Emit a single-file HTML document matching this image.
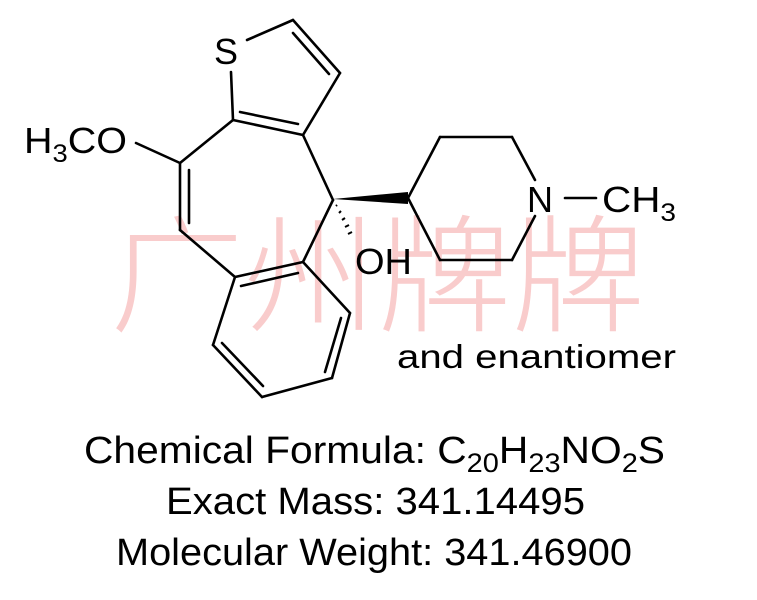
<!DOCTYPE html>
<html><head><style>html,body{margin:0;padding:0;background:#fff}svg{display:block}</style></head>
<body>
<svg width="757" height="600" viewBox="0 0 757 600" xmlns="http://www.w3.org/2000/svg">
<text x="110" y="322" font-family="Noto Sans CJK SC, WenQuanYi Zen Hei, sans-serif" font-size="128" font-weight="300" fill="#f9cccc" textLength="535" lengthAdjust="spacingAndGlyphs">广州牌牌</text>
<g stroke="#000" stroke-width="2.6" fill="none" stroke-linecap="round">
<line x1="247" y1="40" x2="293" y2="20"/>
<line x1="293" y1="20" x2="340" y2="73"/>
<line x1="293" y1="33" x2="329" y2="74"/>
<line x1="340" y1="73" x2="303" y2="135"/>
<line x1="303" y1="135" x2="233" y2="120"/>
<line x1="298" y1="124" x2="240" y2="112"/>
<line x1="231" y1="72" x2="233" y2="120"/>
<line x1="233" y1="120" x2="180" y2="163"/>
<line x1="180" y1="163" x2="136" y2="143"/>
<line x1="180" y1="163" x2="180" y2="230"/>
<line x1="189" y1="170" x2="189" y2="223"/>
<line x1="180" y1="230" x2="235" y2="277"/>
<line x1="303" y1="135" x2="333" y2="200"/>
<line x1="333" y1="200" x2="303" y2="262"/>
<line x1="235" y1="277" x2="303" y2="262"/>
<line x1="241" y1="286" x2="298" y2="273"/>
<line x1="303" y1="262" x2="350" y2="313"/>
<line x1="350" y1="313" x2="332" y2="378"/>
<line x1="341" y1="318" x2="325" y2="372"/>
<line x1="332" y1="378" x2="262" y2="397"/>
<line x1="262" y1="397" x2="213" y2="345"/>
<line x1="263" y1="386" x2="222" y2="343"/>
<line x1="213" y1="345" x2="235" y2="277"/>
<line x1="408" y1="198" x2="440" y2="137"/>
<line x1="440" y1="137" x2="512" y2="137"/>
<line x1="512" y1="137" x2="535" y2="180"/>
<line x1="535" y1="216" x2="512" y2="260"/>
<line x1="512" y1="260" x2="440" y2="260"/>
<line x1="440" y1="260" x2="408" y2="198"/>
<line x1="565" y1="198" x2="596" y2="198"/>
</g>
<polygon points="333,199 408,192 408,204" fill="#000"/>
<g stroke="#000" stroke-width="2">
<line x1="336" y1="206" x2="337" y2="205"/>
<line x1="339" y1="213" x2="341" y2="211"/>
<line x1="342" y1="220" x2="345" y2="218"/>
<line x1="345" y1="227" x2="349" y2="225"/>
<line x1="348" y1="234" x2="352" y2="232"/>
</g>
<g font-family="Liberation Sans, Arial, sans-serif" fill="#000">
<text x="214" y="64" font-size="36">S</text>
<text x="24" y="153" font-size="36" textLength="103" lengthAdjust="spacingAndGlyphs">H<tspan font-size="25" dy="9">3</tspan><tspan dy="-9">CO</tspan></text>
<text x="355" y="274" font-size="36" textLength="57" lengthAdjust="spacingAndGlyphs">OH</text>
<text x="527" y="212" font-size="36">N</text>
<text x="602" y="212" font-size="36" textLength="74" lengthAdjust="spacingAndGlyphs">CH<tspan font-size="25" dy="9">3</tspan></text>
<text x="397" y="368" font-size="33" textLength="279" lengthAdjust="spacingAndGlyphs">and enantiomer</text>
<text x="84" y="463" font-size="38" textLength="581" lengthAdjust="spacingAndGlyphs">Chemical Formula: C<tspan font-size="27" dy="9">20</tspan><tspan dy="-9">H</tspan><tspan font-size="27" dy="9">23</tspan><tspan dy="-9">NO</tspan><tspan font-size="27" dy="9">2</tspan><tspan dy="-9">S</tspan></text>
<text x="166" y="514" font-size="38" textLength="419" lengthAdjust="spacingAndGlyphs">Exact Mass: 341.14495</text>
<text x="116" y="565" font-size="38" textLength="516" lengthAdjust="spacingAndGlyphs">Molecular Weight: 341.46900</text>
</g>
</svg>
</body></html>
